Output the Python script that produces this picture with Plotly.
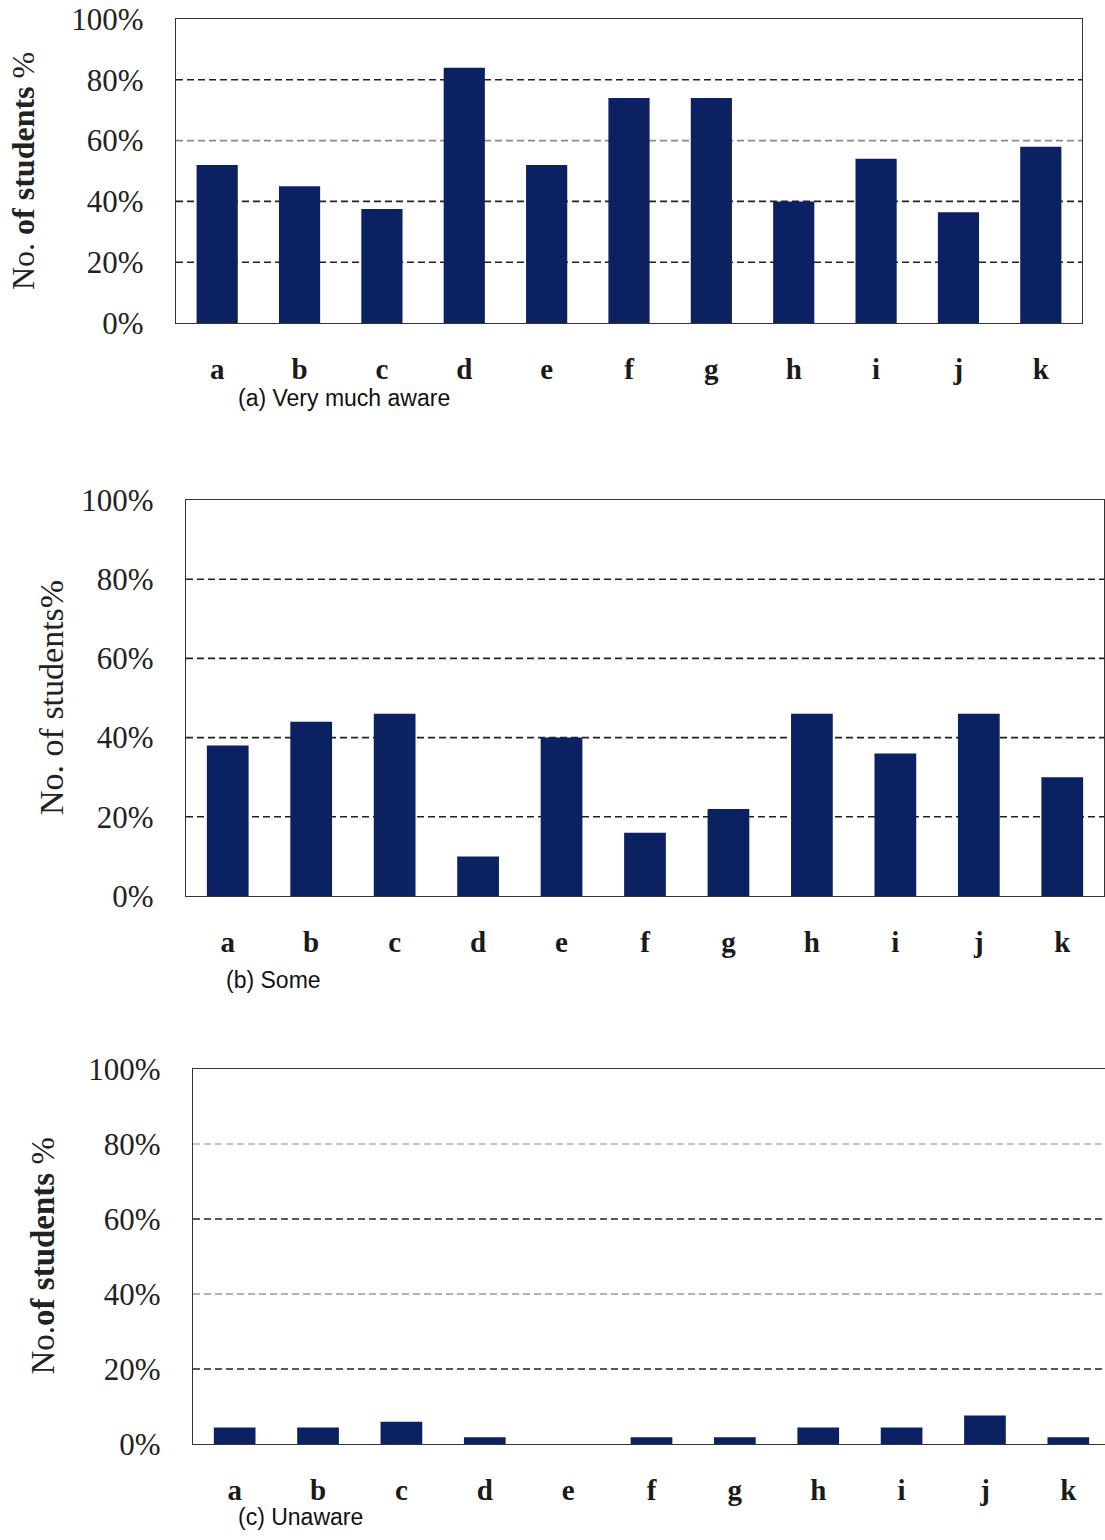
import plotly.graph_objects as go

# ---------------- data ----------------
categories = ["a", "b", "c", "d", "e", "f", "g", "h", "i", "j", "k"]
very_much_aware = [52, 45, 37.5, 84, 52, 74, 74, 40, 54, 36.4, 58]
some = [38, 44, 46, 10, 40, 16, 22, 46, 36, 46, 30]
unaware = [4.4, 4.4, 5.9, 1.8, 0, 1.8, 1.8, 4.4, 4.4, 7.6, 1.8]
y_ticks = [0, 20, 40, 60, 80, 100]
y_tick_text = ["0%", "20%", "40%", "60%", "80%", "100%"]
captions = ["(a) Very much aware", "(b) Some", "(c) Unaware"]
y_titles = ["No. <b>of students</b> %", "No. of students%", "No.<b>of students</b> %"]

# ---------------- layout constants (pixels) ----------------
W, H = 1105, 1540
BAR = "#0b2161"
SERIF = "Liberation Serif"
SANS = "Liberation Sans"

panels = [
    dict(l=176, r=1082, t=19, b=323, xr=10.5, tx=23, cx=236, cy=398, ts=32,
         grid=["#222", "#222", "#8a8a8a", "#222"]),
    dict(l=186, r=1104, t=500, b=896, xr=10.5, tx=51, cx=224, cy=980, ts=34,
         grid=["#222", "#222", "#222", "#222"]),
    dict(l=193, r=1105, t=1069, b=1444, xr=10.44, tx=42, cx=236, cy=1517, ts=33,
         grid=["#222", "#9a9a9a", "#222", "#b0b0b0"]),
]
series = [very_much_aware, some, unaware]

fig = go.Figure()
shapes = []
annotations = []

for i, (p, vals) in enumerate(zip(panels, series)):
    n = "" if i == 0 else str(i + 1)
    fig.add_trace(go.Bar(
        x=categories, y=vals, width=0.5,
        marker=dict(color=BAR, line=dict(width=0)),
        xaxis="x" + n, yaxis="y" + n, showlegend=False,
    ))
    xd = [p["l"] / W, p["r"] / W]
    yd = [1 - p["b"] / H, 1 - p["t"] / H]
    fig.update_layout(**{
        "xaxis" + n: dict(
            domain=xd, range=[-0.5, p["xr"]], type="category",
            showline=True, mirror=True, linecolor="#333", linewidth=1.3,
            showgrid=False, ticks="", ticklabelstandoff=20, automargin=False,
            tickfont=dict(family=SERIF, size=29, color="#1a1a1a", weight="bold"),
            anchor="y" + n, fixedrange=True,
        ),
        "yaxis" + n: dict(
            domain=yd, range=[0, 100], tickmode="array",
            tickvals=y_ticks, ticktext=y_tick_text,
            showline=True, mirror=True, linecolor="#333", linewidth=1.3,
            showgrid=False, zeroline=False, ticks="", ticklabelstandoff=25,
            automargin=False,
            tickfont=dict(family=SERIF, size=31, color="#222"),
            anchor="x" + n, fixedrange=True,
        ),
    })
    for v, c in zip(y_ticks[1:5], p["grid"]):
        shapes.append(dict(
            type="line", xref="x" + n + " domain", yref="y" + n,
            x0=0, x1=1, y0=v, y1=v, layer="below",
            line=dict(color=c, width=1.6, dash="7px,4px"),
        ))
    annotations.append(dict(
        text=y_titles[i], textangle=-90, xref="paper", yref="paper",
        x=p["tx"] / W, y=1 - ((p["t"] + p["b"]) / 2) / H,
        xanchor="center", yanchor="middle", showarrow=False,
        font=dict(family=SERIF, size=p["ts"], color="#222"),
    ))
    annotations.append(dict(
        text=captions[i], xref="paper", yref="paper",
        x=p["cx"] / W, y=1 - p["cy"] / H,
        xanchor="left", yanchor="middle", showarrow=False,
        font=dict(family=SANS, size=23, color="#111"),
    ))

fig.update_layout(
    width=W, height=H,
    margin=dict(l=0, r=0, t=0, b=0, autoexpand=False),
    paper_bgcolor="white", plot_bgcolor="white",
    shapes=shapes, annotations=annotations,
    bargap=0.5,
)

fig.write_html("out.html", config={"displayModeBar": False},
               post_script="document.body.style.margin='0';")
